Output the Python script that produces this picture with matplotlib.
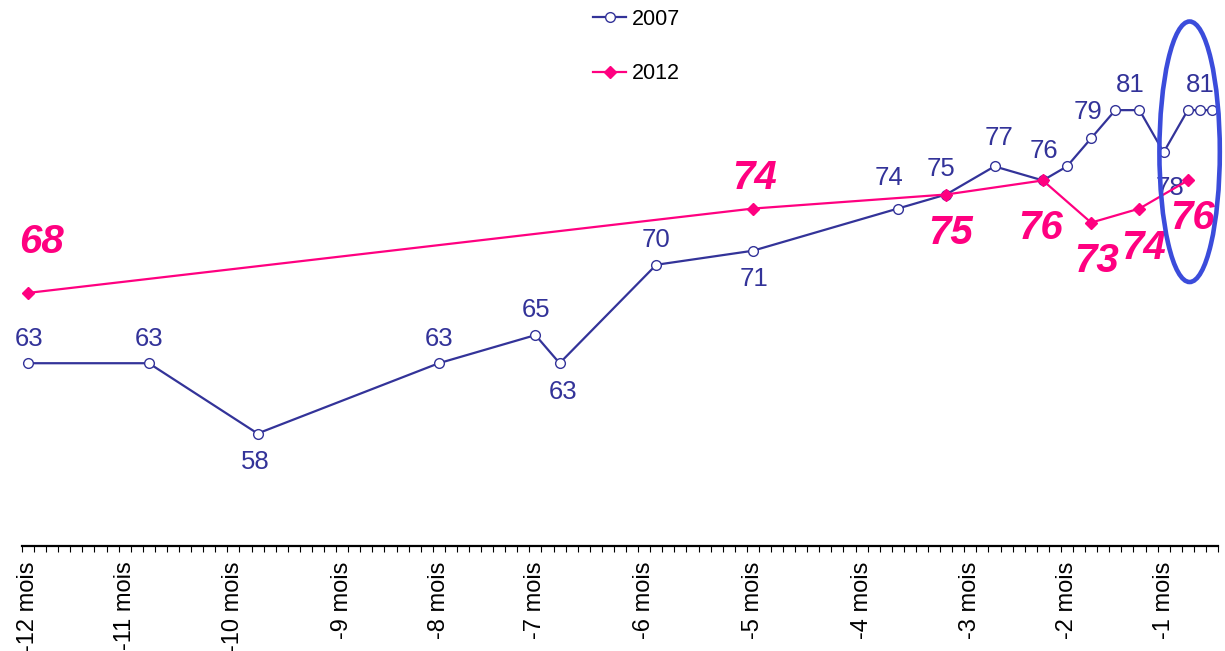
import numpy as np
import matplotlib
matplotlib.use('Agg')
import matplotlib.pyplot as plt
from matplotlib.patches import Ellipse

plt.rcParams['font.family'] = ['Liberation Sans', 'DejaVu Sans']

# survey waves on a category axis (99 slots), values in %
x_2007 = [0, 10, 19, 34, 42, 44, 52, 60, 72, 76, 80, 84, 86, 88, 90, 92, 94, 96, 97, 98]
y_2007 = [63, 63, 58, 63, 65, 63, 70, 71, 74, 75, 77, 76, 77, 79, 81, 81, 78, 81, 81, 81]
x_2012 = [0, 60, 76, 84, 88, 92, 96]
y_2012 = [68, 74, 75, 76, 73, 74, 76]

month_pos = [0, 8, 17, 26, 34, 42, 51, 60, 69, 78, 86, 94]
month_labels = ['-12 mois', '-11 mois', '-10 mois', '-9 mois', '-8 mois', '-7 mois',
                '-6 mois', '-5 mois', '-4 mois', '-3 mois', '-2 mois', '-1 mois']
n_slots = 99

blue = '#333399'
pink = '#FF0080'

# label offsets in pixels (dx, dy) per point index, None = no label
off_2007 = [(1, 24), (0, 24), (-2, -28), (0, 24), (1, 25), (3, -29), (0, 25), (1, -28),
            (-9, 31), (-5, 26), (4, 28), (1, 29), None, (-3, 26), (15, 25), None,
            (6, -36), None, (0, 25), None]
off_2012 = [(13, 51), (2, 31), (4, -38), (-2, -48), (5, -38), (4, -39), (5, -38)]

fig = plt.figure(figsize=(12.25, 6.51), dpi=100)
ax = fig.add_axes([22 / 1225, 1 - 546 / 651, 1196 / 1225, 546 / 651])

ax.plot(x_2007, y_2007, color=blue, lw=1.6, marker='o', ms=7,
        mfc='white', mec=blue, mew=1.0, label='2007', zorder=3)
ax.plot(x_2012, y_2012, color=pink, lw=1.6, marker='D', ms=6.5,
        mfc=pink, mec=pink, label='2012', zorder=4)

for x, y, o in zip(x_2007, y_2007, off_2007):
    if o is None:
        continue
    ax.annotate(str(y), (x, y), xytext=o, textcoords='offset pixels',
                ha='center', va='center', fontsize=18.5, color=blue, zorder=2)

for x, y, o in zip(x_2012, y_2012, off_2012):
    ax.annotate(str(y), (x, y), xytext=o, textcoords='offset pixels',
                ha='center', va='center', fontsize=29, color=pink,
                fontweight='bold', fontstyle='italic', zorder=5)

# highlight of the last weeks
ell = Ellipse((96.15, 78.04), 5.0, 18.53, fill=False, ec='#3B4CDB', lw=3.3,
              zorder=6, clip_on=False)
ax.add_patch(ell)

ax.set_xlim(-0.5, n_slots - 0.5)
ax.set_ylim(50, 50 + 546 / 14.06)

for s in ['top', 'left', 'right']:
    ax.spines[s].set_visible(False)
ax.spines['bottom'].set_linewidth(1.6)
ax.set_yticks([])

ax.set_xticks(month_pos)
ax.set_xticklabels(month_labels, rotation=90, fontsize=17)
ax.set_xticks(np.arange(-0.5, n_slots, 1), minor=True)
ax.tick_params(axis='x', which='major', length=0, pad=11)
ax.tick_params(axis='x', which='minor', length=4, width=0.8)

ax.legend(loc='upper left', bbox_to_anchor=(593 / 1225, 1 - 9 / 651),
          bbox_transform=fig.transFigure, frameon=False, borderpad=0,
          borderaxespad=0, handlelength=1.55, handletextpad=0.25,
          labelspacing=1.55, fontsize=15.5)

fig.savefig('out.png', dpi=100)
